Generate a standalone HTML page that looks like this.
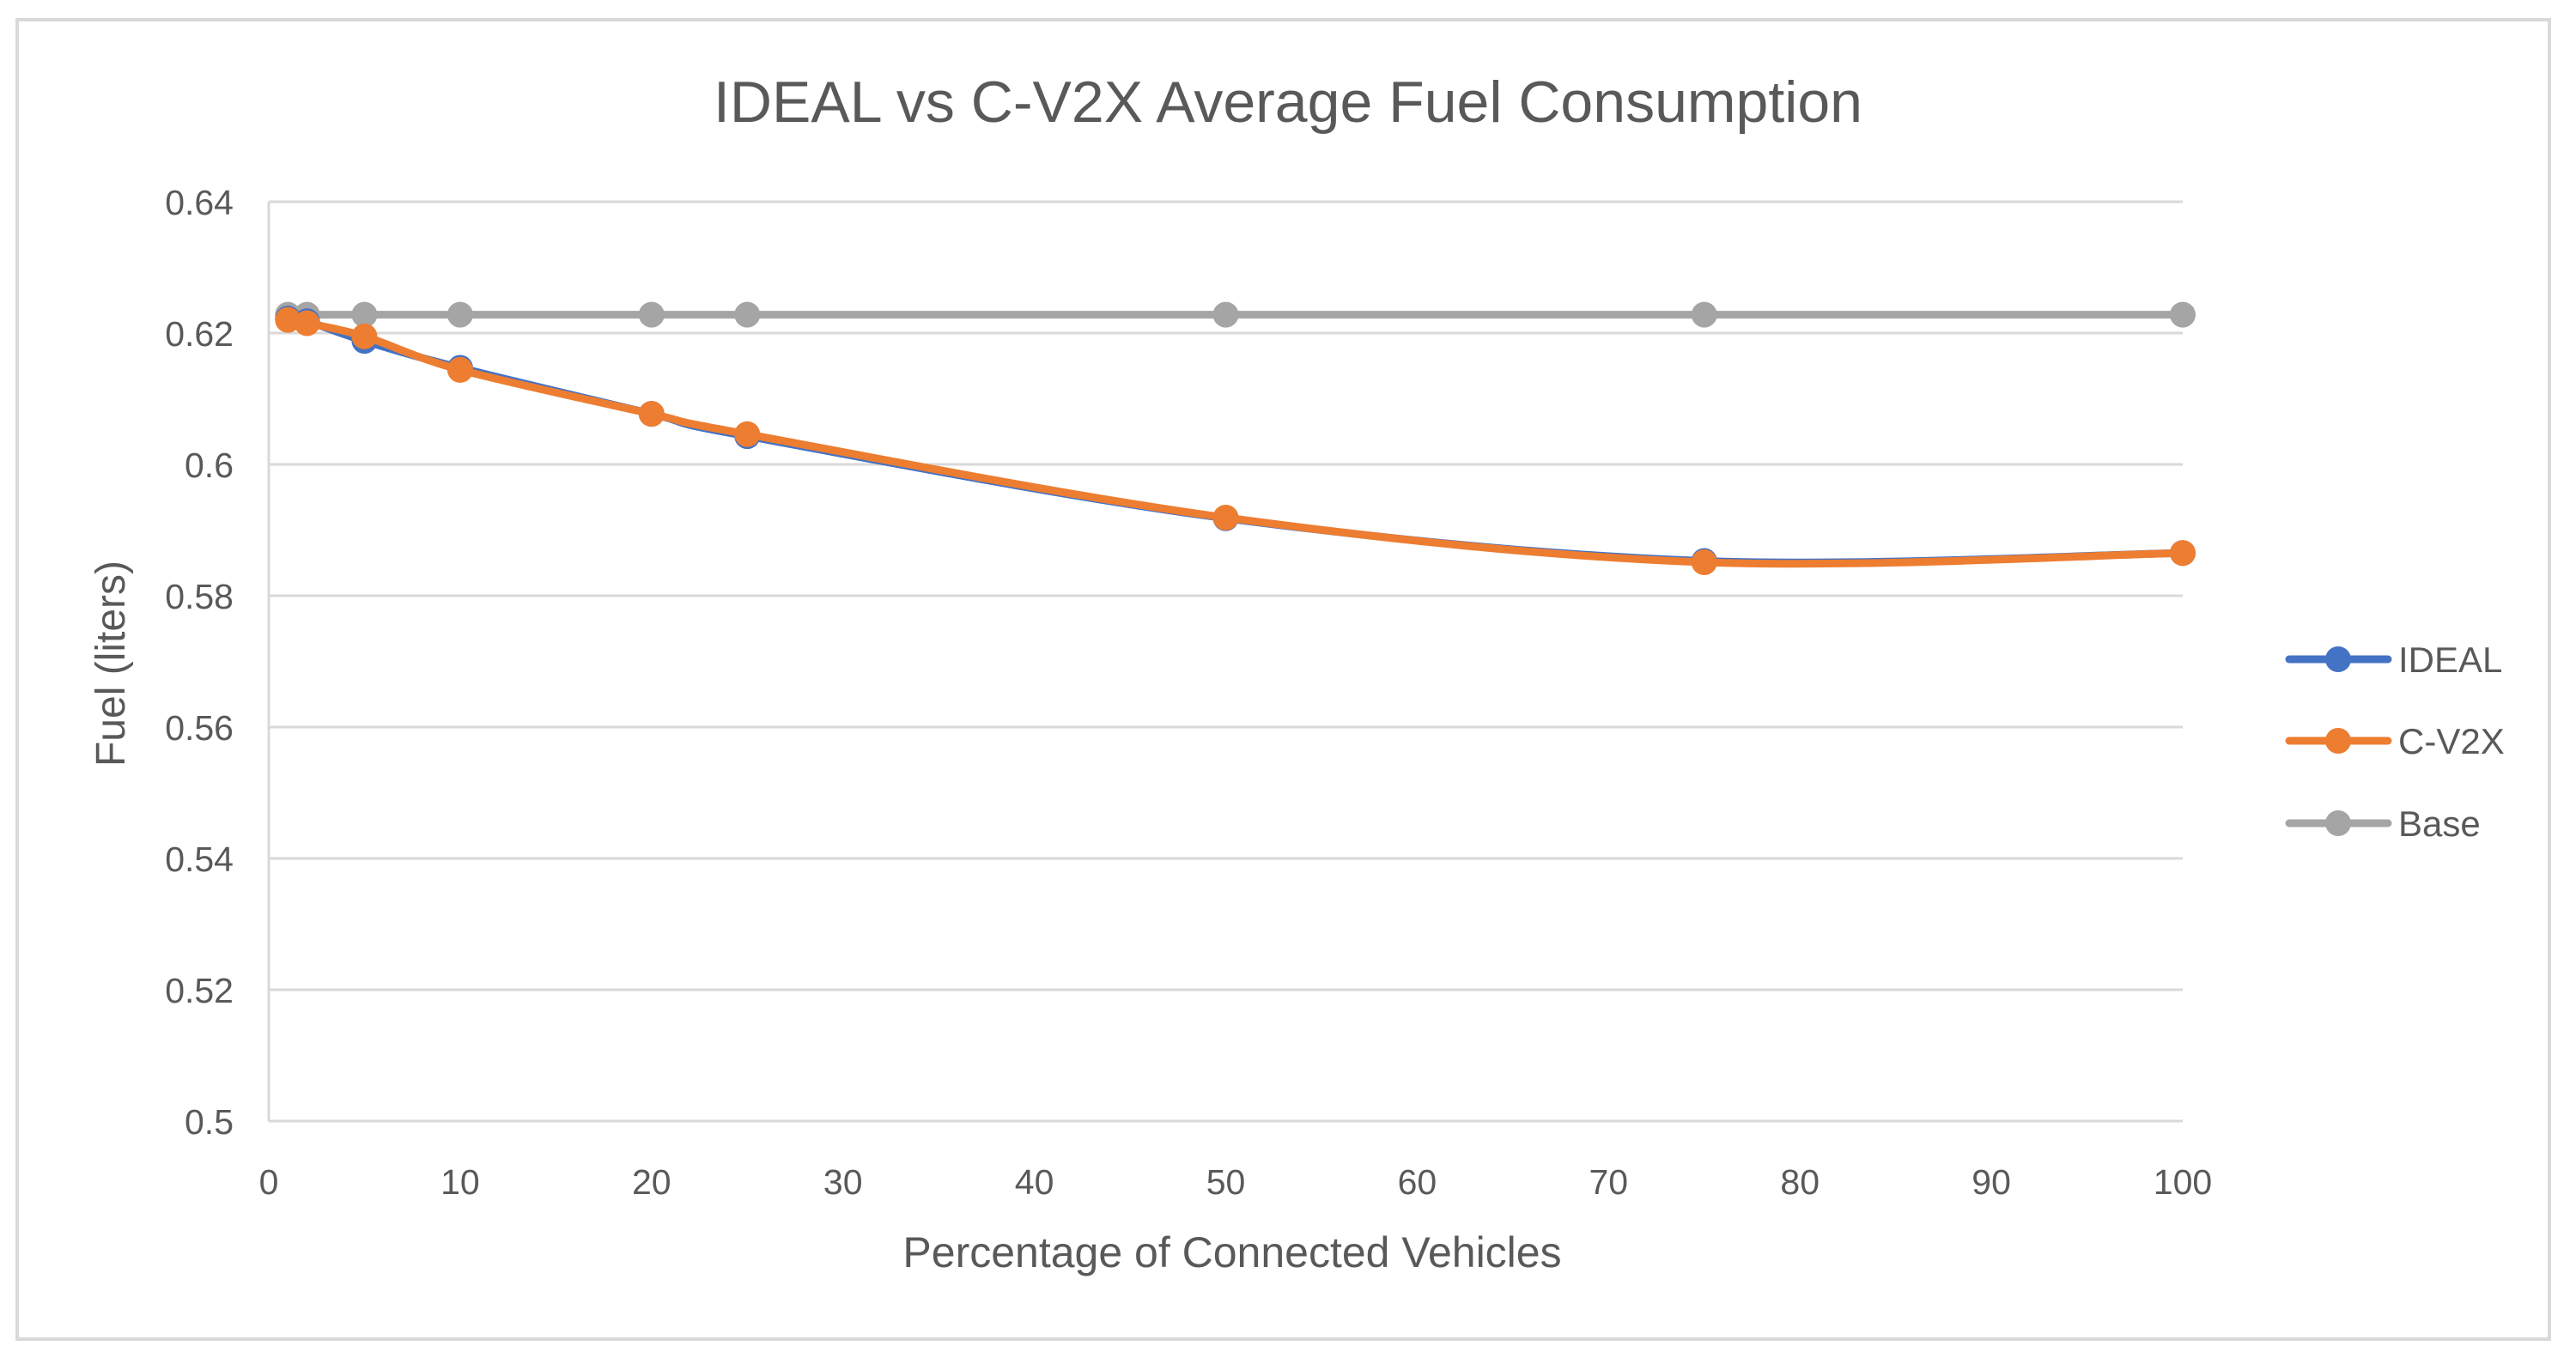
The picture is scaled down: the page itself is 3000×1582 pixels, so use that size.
<!DOCTYPE html>
<html><head><meta charset="utf-8"><style>
html,body{margin:0;padding:0;background:#fff}
svg{display:block}
text{font-family:"Liberation Sans",sans-serif;fill:#595959}
</style></head><body>
<svg id="chart" width="3000" height="1582" viewBox="0 0 3000 1582">
<rect x="20" y="23" width="2949" height="1537" fill="#fff" stroke="#d9d9d9" stroke-width="4"/>
<text x="1500" y="142" text-anchor="middle" font-size="68">IDEAL vs C-V2X Average Fuel Consumption</text>
<g id="grid"></g>
<g id="xticks"></g>
<g id="yticks"></g>
<g id="series"></g>
<text x="1435" y="1476" text-anchor="middle" font-size="50">Percentage of Connected Vehicles</text>
<text transform="translate(145,773) rotate(-90)" text-anchor="middle" font-size="48">Fuel (liters)</text>
<g id="legend"></g>
</svg>
<script>
const xValues=[1,2,5,10,20,25,50,75,100];
const idealValues=[0.6222,0.6218,0.6188,0.6147,0.6077,0.6043,0.5918,0.5853,0.5865];
const cv2xValues=[0.6220,0.6215,0.6195,0.6144,0.6077,0.6046,0.5919,0.5851,0.5865];
const baseValues=[0.6228,0.6228,0.6228,0.6228,0.6228,0.6228,0.6228,0.6228,0.6228];
const xTicks=[0,10,20,30,40,50,60,70,80,90,100];
const yTicks=[0.5,0.52,0.54,0.56,0.58,0.6,0.62,0.64];
const yTickLabels=["0.5","0.52","0.54","0.56","0.58","0.6","0.62","0.64"];
const seriesNames=["IDEAL","C-V2X","Base"];

const NS="http://www.w3.org/2000/svg";
const X0=313,X1=2542,Y0=1306,Y1=235;
const xs=v=>X0+(v-0)/(100-0)*(X1-X0);
const ys=v=>Y0-(v-0.5)/(0.64-0.5)*(Y0-Y1);
function mk(tag,attrs,parent){const e=document.createElementNS(NS,tag);for(const k in attrs)e.setAttribute(k,attrs[k]);parent.appendChild(e);return e;}
const grid=document.getElementById('grid'),xt=document.getElementById('xticks'),yt=document.getElementById('yticks'),ser=document.getElementById('series'),leg=document.getElementById('legend');
yTicks.forEach((v,i)=>{
  const l=mk('line',{x1:X0,x2:X1,y1:ys(v),y2:ys(v),stroke:'#d9d9d9','stroke-width':3},grid);
  
  
  const t=mk('text',{x:272,y:ys(v)+15,'text-anchor':'end','font-size':41},yt);
  t.textContent=yTickLabels[i];
  
  
});
const ax=mk('line',{x1:X0,x2:X0,y1:Y1,y2:Y0,stroke:'#d9d9d9','stroke-width':3},grid);


xTicks.forEach(v=>{
  const t=mk('text',{x:xs(v),y:1391,'text-anchor':'middle','font-size':41},xt);
  t.textContent=String(v);
  
  
});
function smoothPath(pts){
  let d=`M${pts[0][0]},${pts[0][1]}`;
  for(let i=0;i<pts.length-1;i++){
    const p0=pts[Math.max(0,i-1)],p1=pts[i],p2=pts[i+1],p3=pts[Math.min(pts.length-1,i+2)];
    const t=1/6;
    const c1=[p1[0]+(p2[0]-p0[0])*t,p1[1]+(p2[1]-p0[1])*t];
    const c2=[p2[0]-(p3[0]-p1[0])*t,p2[1]-(p3[1]-p1[1])*t];
    d+=` C${c1[0]},${c1[1]} ${c2[0]},${c2[1]} ${p2[0]},${p2[1]}`;
  }
  return d;
}
const colors=['#4472C4','#ED7D31','#A5A5A5'];
const allSeries=[idealValues,cv2xValues,baseValues];
const order=[2,0,1];
order.forEach(si=>{
  const vals=allSeries[si];
  const g=mk('g',{},ser);
  
  
  const pts=xValues.map((x,i)=>[xs(x),ys(vals[i])]);
  const p=mk('path',{d:smoothPath(pts),fill:'none',stroke:colors[si],'stroke-width':9,'stroke-linecap':'round'},g);
  
  
  pts.forEach(pt=>{
    const c=mk('circle',{cx:pt[0],cy:pt[1],r:15,fill:colors[si]},g);
    
    
  });
});
const legY=[768,863,959];
seriesNames.forEach((n,i)=>{
  const g=mk('g',{},leg);
  
  
  mk('line',{x1:2666,x2:2781,y1:legY[i],y2:legY[i],stroke:colors[i],'stroke-width':9,'stroke-linecap':'round'},g);
  mk('circle',{cx:2723,cy:legY[i],r:15,fill:colors[i]},g);
  const t=mk('text',{x:2793,y:legY[i]+15,'font-size':42},g);
  t.textContent=n;
});
</script>
</body></html>
